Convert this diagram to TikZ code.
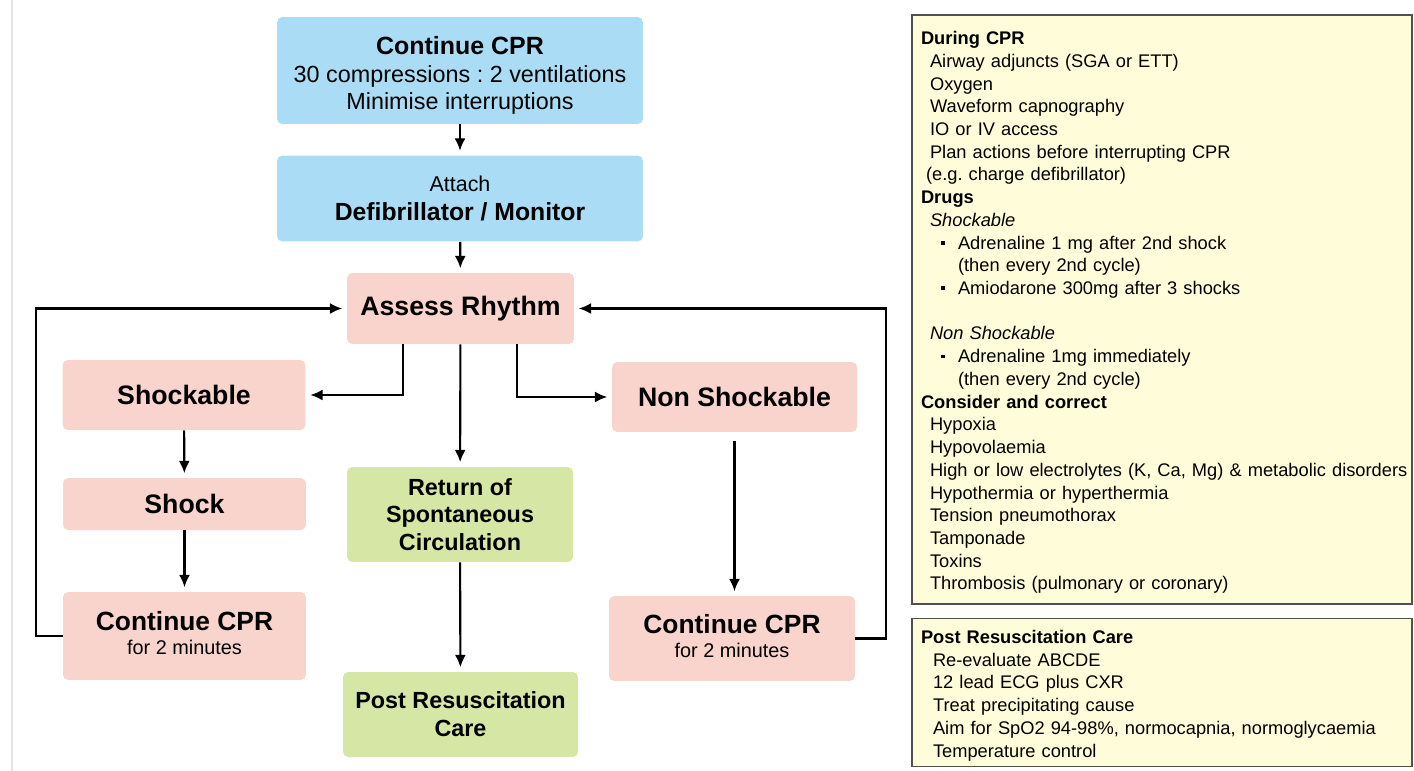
\documentclass[tikz,border=0pt]{standalone}
\usepackage{fontspec}
\setmainfont{Liberation Sans}
\usetikzlibrary{arrows.meta}
\setlength{\parindent}{0pt}
\frenchspacing

\definecolor{cprblue}{HTML}{AADDF5}
\definecolor{rhythmpink}{HTML}{F9D4CC}
\definecolor{roscgreen}{HTML}{D6E7A5}
\definecolor{panelyellow}{HTML}{FFFDD9}
\definecolor{panelborder}{HTML}{505050}

\newcommand{\panelind}{\hspace*{0.18cm}}
\newcommand{\drugitem}{\makebox[0.74cm][l]{\hspace*{0.4cm}\rule[2.6pt]{2pt}{2pt}}}

\begin{document}
\begin{tikzpicture} [
    x=0.02cm, y=-0.02cm,
    block/.style    = { rectangle, draw=none, rounded corners=3pt,
                        align=center, inner sep=2pt },
    bluebox/.style  = { block, fill=cprblue },
    pinkbox/.style  = { block, fill=rhythmpink },
    greenbox/.style = { block, fill=roscgreen },
    panel/.style    = { rectangle, draw=panelborder, line width=0.8pt,
                        fill=panelyellow, text width=9.64cm, inner xsep=0.18cm,
                        align=left, font=\fontsize{10.4pt}{12.93pt}\selectfont },
    line/.style     = { draw, line width=1.2pt, shorten >=2.5pt,
                        -{Latex[length=7pt,width=6.2pt]} },
  ]
  \useasboundingbox (0,0) rectangle (1414,771);
  \draw [black!10, line width=1pt] (12,0) -- (12,771);

  % Define nodes of the flow chart
  \node[bluebox, minimum width=7.32cm, minimum height=2.14cm,
        font=\fontsize{13.3pt}{15.6pt}\selectfont] (cpr) at (460,70.5)
        {\rule{0pt}{16.3pt}{\fontsize{14.2pt}{15.6pt}\selectfont\bfseries Continue CPR}\\
         30 compressions : 2 ventilations\\
         Minimise interruptions};
  \node[bluebox, minimum width=7.32cm, minimum height=1.72cm,
        font=\fontsize{12.2pt}{16.4pt}\selectfont] (defib) at (460,198.5)
        {Attach\\
         {\fontsize{14.1pt}{16.4pt}\selectfont\bfseries Defibrillator / Monitor}};
  \node[pinkbox, minimum width=4.54cm, minimum height=1.42cm,
        font=\fontsize{15.2pt}{18pt}\selectfont\bfseries] (assess) at (460.5,308.5)
        {Assess Rhythm};
  \node[pinkbox, minimum width=4.86cm, minimum height=1.40cm,
        font=\fontsize{15.2pt}{18pt}\selectfont\bfseries] (shockable) at (184,395)
        {Shockable};
  \node[pinkbox, minimum width=4.86cm, minimum height=1.04cm,
        font=\fontsize{15.2pt}{18pt}\selectfont\bfseries] (shock) at (184.5,504)
        {Shock};
  \node[pinkbox, minimum width=4.86cm, minimum height=1.76cm,
        font=\fontsize{11.3pt}{13.6pt}\selectfont] (cprleft) at (184.5,636)
        {{\fontsize{15pt}{13.6pt}\selectfont\bfseries Continue CPR}\\
         for 2 minutes\rule[-3.5pt]{0pt}{0pt}};
  \node[greenbox, minimum width=4.52cm, minimum height=1.9cm,
        font=\fontsize{13.3pt}{15.6pt}\selectfont\bfseries] (rosc) at (460,514.5)
        {Return of\\ Spontaneous\\ Circulation};
  \node[greenbox, minimum width=4.7cm, minimum height=1.7cm,
        font=\fontsize{13.3pt}{16pt}\selectfont\bfseries] (postcare) at (460.5,714.5)
        {Post Resuscitation\\ Care};
  \node[pinkbox, minimum width=4.9cm, minimum height=1.40cm,
        font=\fontsize{15.2pt}{18pt}\selectfont\bfseries] (nonshock) at (734.5,397)
        {Non Shockable};
  \node[pinkbox, minimum width=4.92cm, minimum height=1.7cm,
        font=\fontsize{11.3pt}{13.6pt}\selectfont] (cprright) at (732,638.5)
        {{\fontsize{15pt}{13.6pt}\selectfont\bfseries Continue CPR}\\
         for 2 minutes\rule[-2.5pt]{0pt}{0pt}};

  % Define the side panels
  \node[panel, minimum height=11.78cm] (during) at (1162,309.5) {%
\rule{0pt}{11pt}\textbf{During CPR}\\
\panelind Airway adjuncts (SGA or ETT)\\
\panelind Oxygen\\
\panelind Waveform capnography\\
\panelind IO or IV access\\
\panelind Plan actions before interrupting CPR\\
\hspace*{0.1cm}(e.g. charge defibrillator)\\
\textbf{Drugs}\\
\panelind\textit{Shockable}\\
\drugitem Adrenaline 1 mg after 2nd shock\\
\hspace*{0.74cm}(then every 2nd cycle)\\
\drugitem Amiodarone 300mg after 3 shocks\\[12.93pt]
\panelind\textit{Non Shockable}\\
\drugitem Adrenaline 1mg immediately\\
\hspace*{0.74cm}(then every 2nd cycle)\\
\textbf{Consider and correct}\\
\panelind Hypoxia\\
\panelind Hypovolaemia\\
\mbox{\panelind High or low electrolytes (K, Ca, Mg) \& metabolic disorders}\\
\panelind Hypothermia or hyperthermia\\
\panelind Tension pneumothorax\\
\panelind Tamponade\\
\panelind Toxins\\
\panelind Thrombosis (pulmonary or coronary)};
  \node[panel, minimum height=2.94cm] (postpanel) at (1162,692.5) {%
\rule{0pt}{11pt}\textbf{Post Resuscitation Care}\\
\hspace*{0.24cm}Re-evaluate ABCDE\\
\hspace*{0.24cm}12 lead ECG plus CXR\\
\hspace*{0.24cm}Treat precipitating cause\\
\hspace*{0.24cm}Aim for SpO2 94-98\%, normocapnia, normoglycaemia\\
\hspace*{0.24cm}Temperature control};

  % Define turning points of the loops
  \coordinate (leftrail)  at (36,0);
  \coordinate (rightrail) at (886,0);
  \coordinate (shkfork)   at (403,0);
  \coordinate (nsfork)    at (517,0);

  % connect the nodes
		\path [line] (cpr) -- (defib);
		\path [line] (defib) -- (assess);
		\path [line] (assess.south -| shkfork) |- (shockable.east);
		\path [line] (assess.south -| nsfork) |- (nonshock.west);
		\path [line] (assess) -- (rosc);
		\path [line] (shockable) -- (shock);
		\path [line] (shock) -- (cprleft);
		\path [line] (rosc) -- (postcare);
		\path [line, shorten <=5pt] (nonshock.south) -- (nonshock.south |- cprright.north);
		\path [line] (cprleft.west) -| (leftrail |- assess) -- (assess.west);
		\path [line] (cprright.east) -| (rightrail |- assess) -- (assess.east);
\end{tikzpicture}
\end{document}
